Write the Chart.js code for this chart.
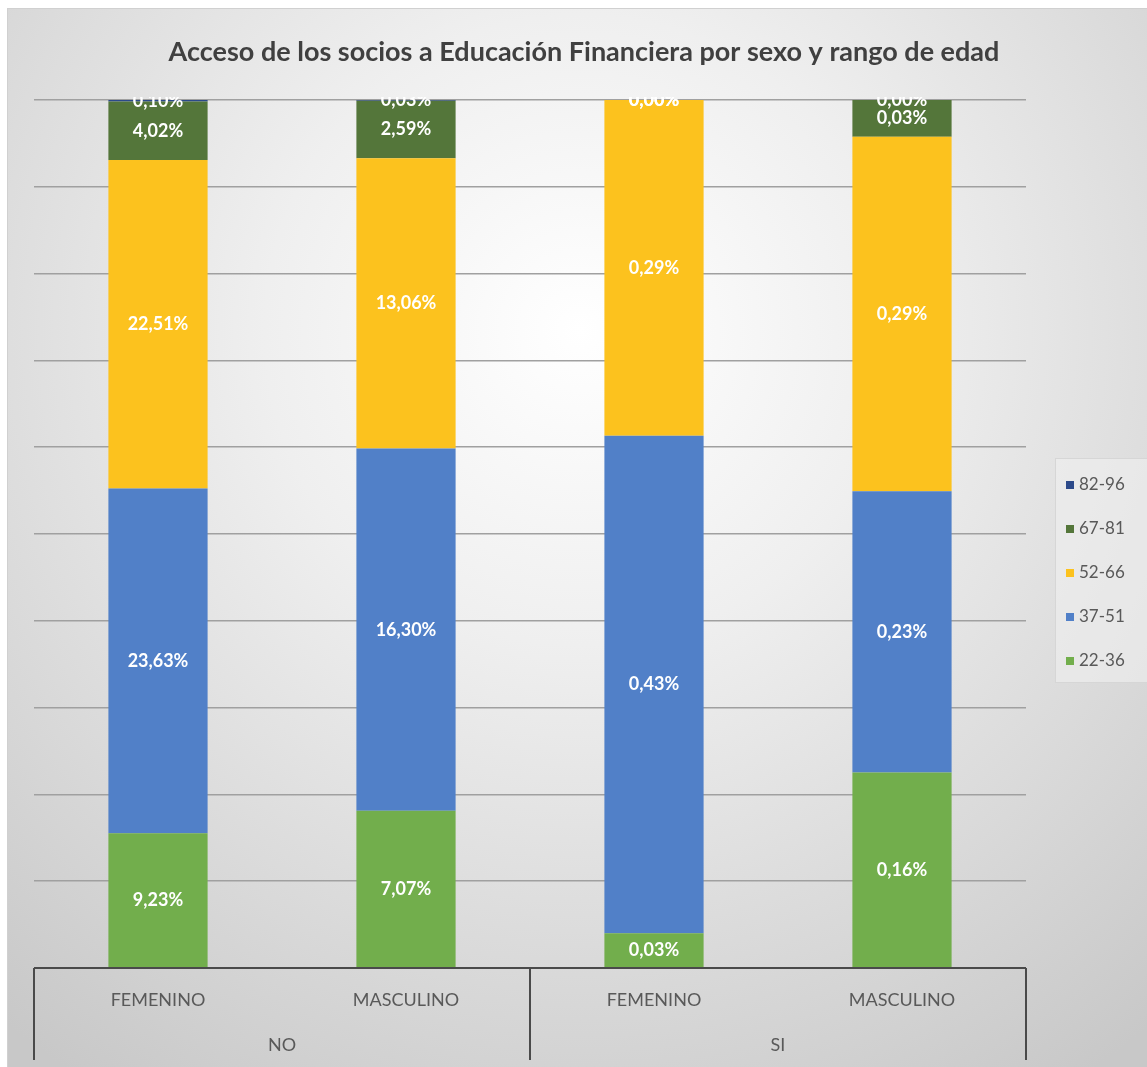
<!DOCTYPE html>
<html>
<head>
<meta charset="utf-8">
<script src="https://cdn.jsdelivr.net/npm/chart.js@4.4.1/dist/chart.umd.min.js"></script>
<style>
  html, body { margin: 0; padding: 0; background: #fff; }
  #wrap { width: 1147px; height: 1067px; position: relative; }
</style>
</head>
<body>
<div id="wrap"><canvas id="eduChart" width="1147" height="1067"></canvas></div>
<script>
// valores (% de socios)
const categories = ["FEMENINO", "MASCULINO", "FEMENINO", "MASCULINO"];
const groups = ["NO", "SI"];
const ageRanges = ["22-36", "37-51", "52-66", "67-81", "82-96"];
const r22_36 = [9.23, 7.07, 0.03, 0.16];
const r37_51 = [23.63, 16.30, 0.43, 0.23];
const r52_66 = [22.51, 13.06, 0.29, 0.29];
const r67_81 = [4.02, 2.59, 0.00, 0.03];
const r82_96 = [0.10, 0.03, 0.00, 0.00];
const seriesColors = ["#72ae4c", "#5180c8", "#fcc21e", "#54763a", "#2c4a8a"];

const title = "Acceso de los socios a Educación Financiera por sexo y rango de edad";
const FONT = "Lato, 'Open Sans', sans-serif";

const rawSeries = [r22_36, r37_51, r52_66, r67_81, r82_96];
// 100% apilado: cada columna se normaliza a su total
const totals = categories.map((_, j) => rawSeries.reduce((s, arr) => s + arr[j], 0));

const fmt = (v) => v.toFixed(2).replace(".", ",") + "%";

const backgroundPlugin = {
  id: "bg",
  beforeDraw(chart) {
    const { ctx, width, height } = chart;
    ctx.save();
    ctx.fillStyle = "#ffffff";
    ctx.fillRect(0, 0, width, height);
    const g = ctx.createRadialGradient(580, 330, 0, 580, 330, 900);
    g.addColorStop(0, "#ffffff");
    g.addColorStop(0.35, "#efefef");
    g.addColorStop(1, "#c8c8c8");
    ctx.fillStyle = g;
    ctx.fillRect(7, 8, width - 7, height - 8);
    ctx.strokeStyle = "#d0d0d0";
    ctx.lineWidth = 1;
    ctx.strokeRect(7.5, 8.5, width - 7, height - 8);

    // titulo
    ctx.fillStyle = "#404040";
    ctx.font = "bold 27px " + FONT;
    ctx.textAlign = "center";
    ctx.textBaseline = "middle";
    ctx.fillText(title, 584, 52);
    ctx.restore();
  }
};

const labelsPlugin = {
  id: "segLabels",
  afterDatasetsDraw(chart) {
    const { ctx, chartArea } = chart;
    ctx.save();
    ctx.beginPath();
    ctx.rect(0, chartArea.top - 3, chart.width, chart.height);
    ctx.clip();
    ctx.font = "bold 18px " + FONT;
    ctx.fillStyle = "#ffffff";
    ctx.textAlign = "center";
    ctx.textBaseline = "middle";
    chart.data.datasets.forEach((ds, i) => {
      const meta = chart.getDatasetMeta(i);
      meta.data.forEach((bar, j) => {
        const y = (bar.y + bar.base) / 2;
        ctx.fillText(fmt(ds.rawValues[j]), bar.x, y);
      });
    });
    ctx.restore();
  }
};

const axisPlugin = {
  id: "groupAxis",
  afterDraw(chart) {
    const { ctx, chartArea } = chart;
    const x = chart.scales.x;
    const bottom = chartArea.bottom;
    const mid = (x.getPixelForValue(1) + x.getPixelForValue(2)) / 2;
    ctx.save();
    ctx.strokeStyle = "#4a4a4a";
    ctx.lineWidth = 2;
    ctx.beginPath();
    ctx.moveTo(chartArea.left, bottom);
    ctx.lineTo(chartArea.right, bottom);
    [chartArea.left, mid, chartArea.right].forEach((px) => {
      ctx.moveTo(px, bottom);
      ctx.lineTo(px, bottom + 92);
    });
    ctx.stroke();

    ctx.fillStyle = "#595959";
    ctx.font = "18px " + FONT;
    ctx.textAlign = "center";
    ctx.textBaseline = "middle";
    categories.forEach((c, j) => {
      ctx.fillText(c, x.getPixelForValue(j), bottom + 32);
    });
    ctx.fillText(groups[0], (chartArea.left + mid) / 2, bottom + 77);
    ctx.fillText(groups[1], (mid + chartArea.right) / 2, bottom + 77);

    // leyenda
    const lx = 1055, ly = 458;
    ctx.fillStyle = "rgba(240,240,240,0.6)";
    ctx.fillRect(lx, ly, 100, 224);
    ctx.strokeStyle = "#d6d6d6";
    ctx.lineWidth = 1;
    ctx.strokeRect(lx + 0.5, ly + 0.5, 100, 224);
    ctx.font = "17px " + FONT;
    ctx.textAlign = "left";
    for (let k = ageRanges.length - 1, row = 0; k >= 0; k--, row++) {
      const yy = 485 + row * 44;
      ctx.fillStyle = seriesColors[k];
      ctx.fillRect(1066, yy - 4, 8, 8);
      ctx.fillStyle = "#595959";
      ctx.fillText(ageRanges[k], 1079, yy);
    }
    ctx.restore();
  }
};

new Chart(document.getElementById("eduChart"), {
  type: "bar",
  data: {
    labels: categories,
    datasets: ageRanges.map((name, i) => ({
      label: name,
      data: rawSeries[i].map((v, j) => (v / totals[j]) * 100),
      rawValues: rawSeries[i],
      backgroundColor: seriesColors[i],
      borderWidth: 0,
      barPercentage: 0.4,
      categoryPercentage: 1.0,
    })),
  },
  options: {
    responsive: false,
    animation: false,
    layout: { padding: { top: 100, left: 34, right: 121, bottom: 99 } },
    plugins: {
      legend: { display: false },
      tooltip: { enabled: false },
    },
    scales: {
      x: { stacked: true, display: false },
      y: {
        stacked: true,
        min: 0,
        max: 100,
        ticks: { display: false, stepSize: 10 },
        border: { display: false },
        grid: { color: "#a0a0a0", lineWidth: 1.5, drawTicks: false },
      },
    },
  },
  plugins: [backgroundPlugin, labelsPlugin, axisPlugin],
});
</script>
</body>
</html>
